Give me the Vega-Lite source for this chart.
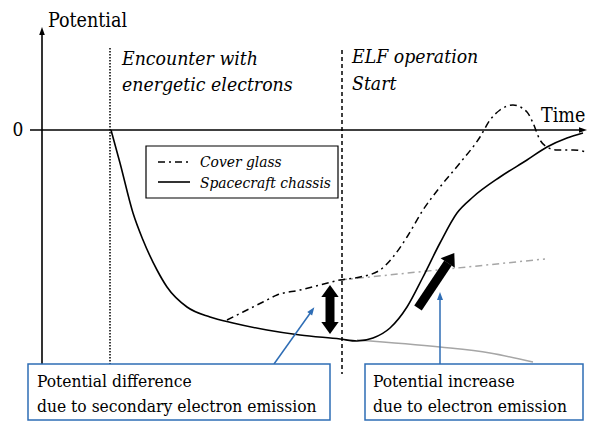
{
  "$schema": "https://vega.github.io/schema/vega-lite/v6.json",
  "width": 590,
  "height": 421,
  "autosize": {"type": "fit", "contains": "padding"},
  "padding": 0,
  "background": "white",
  "config": {"view": {"stroke": null}, "font": "DejaVu Serif Condensed, DejaVu Serif"},
  "encoding": {
    "x": {"field": "t", "type": "quantitative", "scale": {"domain": [-42, 548], "nice": false, "zero": false}, "axis": null},
    "y": {"field": "v", "type": "quantitative", "scale": {"domain": [-291, 130], "nice": false, "zero": false}, "axis": null}
  },
  "layer": [
    {
      "data": {"values": [{"t": 68, "v": 82, "t2": 68, "v2": -234}]},
      "mark": {"type": "rule", "color": "black", "strokeWidth": 1.5, "strokeDash": [1.5, 1.5]},
      "encoding": {"x2": {"field": "t2"}, "y2": {"field": "v2"}}
    },
    {
      "data": {"values": [{"t": 300, "v": 80, "t2": 300, "v2": -244}]},
      "mark": {"type": "rule", "color": "black", "strokeWidth": 1.5, "strokeDash": [4, 3]},
      "encoding": {"x2": {"field": "t2"}, "y2": {"field": "v2"}}
    },
    {
      "data": {"values": [
        {"t": -12, "v": 0, "t2": 538, "v2": 0},
        {"t": 0, "v": -234, "t2": 0, "v2": 98}
      ]},
      "mark": {"type": "rule", "color": "black", "strokeWidth": 1.6},
      "encoding": {"x2": {"field": "t2"}, "y2": {"field": "v2"}}
    },
    {
      "data": {"values": [{"t": 0, "v": 99}]},
      "mark": {"type": "point", "shape": "M0,-1L0.7,1L-0.7,1Z", "size": 64, "filled": true, "color": "black", "opacity": 1}
    },
    {
      "data": {"values": [{"t": 541, "v": 0}]},
      "mark": {"type": "point", "shape": "M0,-1L0.7,1L-0.7,1Z", "size": 64, "angle": 90, "filled": true, "color": "black", "opacity": 1}
    },
    {
      "data": {"values": [
        {"t": 298, "v": -150}, {"t": 503, "v": -129}
      ]},
      "mark": {"type": "line", "color": "#A6A6A6", "strokeWidth": 1.5, "strokeDash": [7, 4, 2, 4]}
    },
    {
      "data": {"values": [
        {"t": 315, "v": -210}, {"t": 398, "v": -217}, {"t": 448, "v": -223}, {"t": 491, "v": -232}
      ]},
      "mark": {"type": "line", "color": "#A6A6A6", "strokeWidth": 1.5, "interpolate": "monotone"}
    },
    {
      "data": {"values": [
        {"t": 185, "v": -190}, {"t": 201, "v": -182}, {"t": 221, "v": -172}, {"t": 235, "v": -165},
        {"t": 258, "v": -160}, {"t": 278, "v": -155}, {"t": 298, "v": -150}, {"t": 318, "v": -147},
        {"t": 338, "v": -140}, {"t": 351, "v": -127}, {"t": 365, "v": -107}, {"t": 381, "v": -80},
        {"t": 398, "v": -57}, {"t": 418, "v": -33}, {"t": 438, "v": -7}, {"t": 448, "v": 10},
        {"t": 458, "v": 20}, {"t": 471, "v": 25}, {"t": 485, "v": 18}, {"t": 491, "v": 7},
        {"t": 498, "v": -10}, {"t": 505, "v": -17}, {"t": 515, "v": -20}, {"t": 531, "v": -20},
        {"t": 545, "v": -22}
      ]},
      "mark": {"type": "line", "color": "black", "strokeWidth": 1.5, "strokeDash": [7, 4, 2, 4], "interpolate": "monotone"}
    },
    {
      "data": {"values": [
        {"t": 69, "v": 0}, {"t": 78, "v": -33}, {"t": 91, "v": -83}, {"t": 101, "v": -110},
        {"t": 115, "v": -140}, {"t": 125, "v": -157}, {"t": 145, "v": -177}, {"t": 168, "v": -187},
        {"t": 191, "v": -193}, {"t": 225, "v": -200}, {"t": 258, "v": -205}, {"t": 298, "v": -209},
        {"t": 315, "v": -211}, {"t": 331, "v": -208}, {"t": 348, "v": -198}, {"t": 365, "v": -177},
        {"t": 381, "v": -147}, {"t": 398, "v": -113}, {"t": 415, "v": -83}, {"t": 431, "v": -67},
        {"t": 458, "v": -47}, {"t": 485, "v": -30}, {"t": 505, "v": -17}, {"t": 525, "v": -8},
        {"t": 541, "v": -3}
      ]},
      "mark": {"type": "line", "color": "black", "strokeWidth": 1.6, "interpolate": "monotone"}
    },
    {
      "data": {"values": [
        {"t": 288, "v": -162, "t2": 288, "v2": -197},
        {"t": 376, "v": -178, "t2": 406, "v2": -133}
      ]},
      "mark": {"type": "rule", "color": "black", "strokeWidth": 9, "strokeCap": "butt"},
      "encoding": {"x2": {"field": "t2"}, "y2": {"field": "v2"}}
    },
    {
      "data": {"values": [{"t": 288, "v": -161}]},
      "mark": {"type": "point", "shape": "M0,-0.7L1,0.7L-1,0.7Z", "size": 300, "filled": true, "color": "black", "opacity": 1}
    },
    {
      "data": {"values": [{"t": 288, "v": -198}]},
      "mark": {"type": "point", "shape": "M0,-0.7L1,0.7L-1,0.7Z", "size": 300, "angle": 180, "filled": true, "color": "black", "opacity": 1}
    },
    {
      "data": {"values": [{"t": 409, "v": -128}]},
      "mark": {"type": "point", "shape": "M0,-0.7L1,0.7L-1,0.7Z", "size": 290, "angle": 33.5, "filled": true, "color": "black", "opacity": 1}
    },
    {
      "data": {"values": [{"t": 104, "v": -16, "t2": 296, "v2": -68}]},
      "mark": {"type": "rect", "fill": "white", "stroke": "black", "strokeWidth": 1.2},
      "encoding": {"x2": {"field": "t2"}, "y2": {"field": "v2"}}
    },
    {
      "data": {"values": [{"t": 116, "v": -32, "t2": 148, "v2": -32}]},
      "mark": {"type": "rule", "color": "black", "strokeWidth": 1.5, "strokeDash": [7, 4, 2, 4]},
      "encoding": {"x2": {"field": "t2"}, "y2": {"field": "v2"}}
    },
    {
      "data": {"values": [{"t": 116, "v": -52, "t2": 148, "v2": -52}]},
      "mark": {"type": "rule", "color": "black", "strokeWidth": 1.6},
      "encoding": {"x2": {"field": "t2"}, "y2": {"field": "v2"}}
    },
    {
      "data": {"values": [
        {"t": 158, "v": -37, "label": "Cover glass"},
        {"t": 158, "v": -58, "label": "Spacecraft chassis"}
      ]},
      "mark": {"type": "text", "align": "left", "baseline": "alphabetic", "fontSize": 15.4, "fontStyle": "italic", "color": "black"},
      "encoding": {"text": {"field": "label"}}
    },
    {
      "data": {"values": [
        {"t": 232, "v": -234, "t2": 269, "v2": -182},
        {"t": 398, "v": -234, "t2": 398, "v2": -168}
      ]},
      "mark": {"type": "rule", "color": "#2E6DB5", "strokeWidth": 1.5},
      "encoding": {"x2": {"field": "t2"}, "y2": {"field": "v2"}}
    },
    {
      "data": {"values": [{"t": 270, "v": -180.5}]},
      "mark": {"type": "point", "shape": "M0,-1L0.75,1L-0.75,1Z", "size": 64, "angle": 35.5, "filled": true, "color": "#2E6DB5", "opacity": 1}
    },
    {
      "data": {"values": [{"t": 398, "v": -166}]},
      "mark": {"type": "point", "shape": "M0,-1L0.75,1L-0.75,1Z", "size": 64, "filled": true, "color": "#2E6DB5", "opacity": 1}
    },
    {
      "data": {"values": [
        {"t": -14, "v": -234, "t2": 288, "v2": -290},
        {"t": 323, "v": -234, "t2": 541, "v2": -290}
      ]},
      "mark": {"type": "rect", "fill": "white", "stroke": "#2E6DB5", "strokeWidth": 1.5},
      "encoding": {"x2": {"field": "t2"}, "y2": {"field": "v2"}}
    },
    {
      "data": {"values": [
        {"t": -5, "v": -257, "label": "Potential difference"},
        {"t": -5, "v": -282, "label": "due to secondary electron emission"},
        {"t": 331, "v": -257, "label": "Potential increase"},
        {"t": 331, "v": -282, "label": "due to electron emission"}
      ]},
      "mark": {"type": "text", "align": "left", "baseline": "alphabetic", "fontSize": 17.3, "color": "black"},
      "encoding": {"text": {"field": "label"}}
    },
    {
      "data": {"values": [
        {"t": 6, "v": 103, "label": "Potential"},
        {"t": 499, "v": 8, "label": "Time"}
      ]},
      "mark": {"type": "text", "align": "left", "baseline": "alphabetic", "fontSize": 19.5, "color": "black"},
      "encoding": {"text": {"field": "label"}}
    },
    {
      "data": {"values": [{"t": -24, "v": 0, "label": "0"}]},
      "mark": {"type": "text", "align": "center", "baseline": "middle", "fontSize": 19, "color": "black"},
      "encoding": {"text": {"field": "label"}}
    },
    {
      "data": {"values": [
        {"t": 80, "v": 65, "label": "Encounter with"},
        {"t": 80, "v": 39, "label": "energetic electrons"},
        {"t": 310, "v": 67, "label": "ELF operation"},
        {"t": 310, "v": 40, "label": "Start"}
      ]},
      "mark": {"type": "text", "align": "left", "baseline": "alphabetic", "fontSize": 19.3, "fontStyle": "italic", "color": "black"},
      "encoding": {"text": {"field": "label"}}
    }
  ]
}
